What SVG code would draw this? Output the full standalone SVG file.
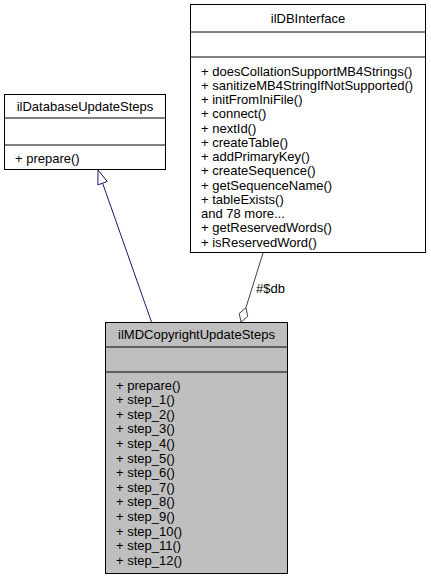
<svg xmlns="http://www.w3.org/2000/svg" width="431" height="580" viewBox="0 0 431 580">
<style>
text{font-family:"Liberation Sans",Arial,sans-serif;font-size:13px;fill:#000}
.t{text-anchor:middle}
.box{fill:#fff;stroke:#000;stroke-width:1}
.cur{fill:#bfbfbf;stroke:#000;stroke-width:1}
.sep{stroke:#000;stroke-width:1}
.inh{fill:none;stroke:#191970;stroke-width:1}
.comp{fill:none;stroke:#404040;stroke-width:1}
</style>
<rect width="431" height="580" fill="#fff"/>
<g id="edges">
<path class="inh" d="M151.5,322 L102.6,183.2"/>
<polygon class="inh" fill="#fff" points="98,170 107.3,181.5 97.9,184.9" style="fill:#fff"/>
<path class="comp" d="M263,253 L245.9,307.8"/>
<polygon class="comp" points="241,322 239.2,313.5 245.9,307.8 247.7,316.5" style="fill:#fff"/>
<text x="256" y="292.5">#$db</text>
</g>
<g id="ilDatabaseUpdateSteps">
<rect class="box" x="4.5" y="94.5" width="161" height="75"/>
<line class="sep" x1="4.5" y1="118" x2="165.5" y2="118"/>
<line class="sep" x1="4.5" y1="145" x2="165.5" y2="145"/>
<text class="t" x="85" y="110.5">ilDatabaseUpdateSteps</text>
<text x="15" y="162.5">+ prepare()</text>
</g>
<g id="ilDBInterface">
<rect class="box" x="190.5" y="4.5" width="235" height="248"/>
<line class="sep" x1="190.5" y1="32" x2="425.5" y2="32"/>
<line class="sep" x1="190.5" y1="57" x2="425.5" y2="57"/>
<text class="t" x="308" y="22.5">ilDBInterface</text>
<text x="201" y="75.5">+ doesCollationSupportMB4Strings()</text>
<text x="201" y="89.75">+ sanitizeMB4StringIfNotSupported()</text>
<text x="201" y="104">+ initFromIniFile()</text>
<text x="201" y="118.25">+ connect()</text>
<text x="201" y="132.5">+ nextId()</text>
<text x="201" y="146.75">+ createTable()</text>
<text x="201" y="161">+ addPrimaryKey()</text>
<text x="201" y="175.25">+ createSequence()</text>
<text x="201" y="189.5">+ getSequenceName()</text>
<text x="201" y="203.75">+ tableExists()</text>
<text x="201" y="218">and 78 more...</text>
<text x="201" y="232.25">+ getReservedWords()</text>
<text x="201" y="246.5">+ isReservedWord()</text>
</g>
<g id="ilMDCopyrightUpdateSteps">
<rect class="cur" x="105.5" y="322.5" width="182" height="251"/>
<line class="sep" x1="105.5" y1="347" x2="287.5" y2="347"/>
<line class="sep" x1="105.5" y1="372" x2="287.5" y2="372"/>
<text class="t" x="196.5" y="338.5">ilMDCopyrightUpdateSteps</text>
<text x="116" y="389.5">+ prepare()</text>
<text x="116" y="404.1">+ step_1()</text>
<text x="116" y="418.7">+ step_2()</text>
<text x="116" y="433.3">+ step_3()</text>
<text x="116" y="447.9">+ step_4()</text>
<text x="116" y="462.5">+ step_5()</text>
<text x="116" y="477.1">+ step_6()</text>
<text x="116" y="491.7">+ step_7()</text>
<text x="116" y="506.3">+ step_8()</text>
<text x="116" y="520.9">+ step_9()</text>
<text x="116" y="535.5">+ step_10()</text>
<text x="116" y="550.1">+ step_11()</text>
<text x="116" y="564.7">+ step_12()</text>
</g>
</svg>
